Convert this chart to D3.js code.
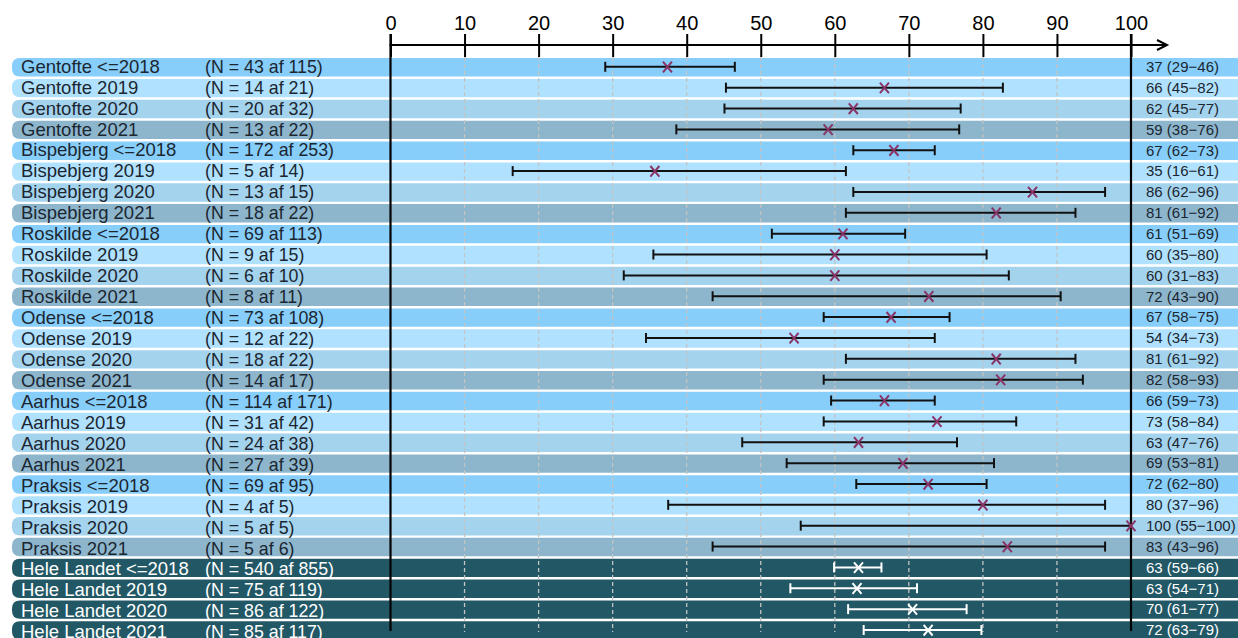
<!DOCTYPE html>
<html>
<head>
<meta charset="utf-8">
<script src="https://cdn.jsdelivr.net/npm/d3@7"></script>
<style>
  body { margin: 0; background: #fff; }
  text { font-family: "Liberation Sans", Arial, sans-serif; }
</style>
</head>
<body>
<svg id="chart"></svg>
<script>
// rows, top to bottom
const labels = [
  "Gentofte <=2018", "Gentofte 2019", "Gentofte 2020", "Gentofte 2021",
  "Bispebjerg <=2018", "Bispebjerg 2019", "Bispebjerg 2020", "Bispebjerg 2021",
  "Roskilde <=2018", "Roskilde 2019", "Roskilde 2020", "Roskilde 2021",
  "Odense <=2018", "Odense 2019", "Odense 2020", "Odense 2021",
  "Aarhus <=2018", "Aarhus 2019", "Aarhus 2020", "Aarhus 2021",
  "Praksis <=2018", "Praksis 2019", "Praksis 2020", "Praksis 2021",
  "Hele Landet <=2018", "Hele Landet 2019", "Hele Landet 2020", "Hele Landet 2021"
];
const nYes = [43, 14, 20, 13, 172, 5, 13, 18, 69, 9, 6, 8, 73, 12, 18, 14, 114, 31, 24, 27, 69, 4, 5, 5, 540, 75, 86, 85];
const nAll = [115, 21, 32, 22, 253, 14, 15, 22, 113, 15, 10, 11, 108, 22, 22, 17, 171, 42, 38, 39, 95, 5, 5, 6, 855, 119, 122, 117];
// plotted values (labels show them truncated)
const est = [37.4, 66.7, 62.5, 59.1, 67.98, 35.7, 86.7, 81.8, 61.1, 60.0, 60.0, 72.7, 67.6, 54.5, 81.8, 82.4,
             66.7, 73.8, 63.2, 69.2, 72.6, 80.0, 100, 83.3, 63.2, 63.0, 70.5, 72.6];
const lower = [29.0, 45.3, 45.1, 38.6, 62.5, 16.5, 62.5, 61.5, 51.5, 35.5, 31.5, 43.5, 58.5, 34.5, 61.5, 58.5,
               59.5, 58.5, 47.5, 53.5, 62.9, 37.5, 55.4, 43.5, 59.9, 54.0, 61.8, 63.9];
const upper = [46.5, 82.7, 77.0, 76.8, 73.5, 61.5, 96.5, 92.5, 69.5, 80.5, 83.5, 90.5, 75.5, 73.5, 92.5, 93.5,
               73.5, 84.5, 76.5, 81.5, 80.5, 96.5, 100, 96.5, 66.3, 71.1, 77.8, 79.8];
const tickValues = [0, 10, 20, 30, 40, 50, 60, 70, 80, 90, 100];

const yearColors = ["#87CEFA", "#B0E2FF", "#A4D3EE", "#8DB6CD"];
const totalColor = "#225866";

const rows = labels.map((d, i) => ({
  label: d, n: nYes[i], N: nAll[i], est: est[i], lo: lower[i], hi: upper[i],
  total: d.startsWith("Hele Landet"), i: i
}));

const W = 1238, H = 638;
const svg = d3.select("#chart").attr("width", W).attr("height", H);

const x = d3.scaleLinear().domain([0, 100]).range([390.5, 1131]);
const y = d3.scalePoint().domain(d3.range(rows.length)).range([67.3, 630.5]);
// the left text runs on a slightly wider pitch than the bands
const yText = d3.scalePoint().domain(d3.range(rows.length)).range([72.7, 638.3]);
const bandH = 18.4;
const axisY = 45;

const rowFill = d => d.total ? totalColor : yearColors[d.i % 4];

// bands with a rounded left end
function bandPath(d) {
  const x0 = 12, x1 = W, t = y(d.i) - bandH / 2, b = t + bandH, r = 8;
  return `M${x1},${t}H${x0 + r}Q${x0},${t} ${x0},${t + r}V${b - r}Q${x0},${b} ${x0 + r},${b}H${x1}Z`;
}
svg.append("g").selectAll("path")
  .data(rows)
  .join("path")
  .attr("d", bandPath)
  .attr("fill", rowFill);

// dashed grid
svg.append("g").selectAll("line")
  .data(tickValues.filter(v => v > 0 && v < 100))
  .join("line")
  .attr("x1", d => x(d)).attr("x2", d => x(d))
  .attr("y1", 57).attr("y2", 632)
  .attr("stroke", "#c4c4c4")
  .attr("stroke-width", 1.3)
  .attr("stroke-dasharray", "4,3");

// axis on top
const axis = svg.append("g")
  .attr("transform", `translate(0,${axisY})`)
  .call(d3.axisTop(x).tickValues(tickValues).tickSize(11).tickPadding(4.5).tickFormat(d3.format("d")));
axis.select(".domain").remove();
axis.selectAll(".tick line").attr("stroke", "#000").attr("stroke-width", 2).attr("y2", -11);
axis.selectAll(".tick").append("line")
  .attr("y1", 0).attr("y2", 12)
  .attr("stroke", "#000").attr("stroke-width", 2);
axis.selectAll(".tick text")
  .attr("fill", "#000")
  .style("font-size", "20px")
  .style("font-family", "'Liberation Sans', Arial, sans-serif");
axis.append("line")
  .attr("x1", x(0) - 1).attr("x2", 1167)
  .attr("stroke", "#000").attr("stroke-width", 2);
axis.append("path")
  .attr("d", "M1157,-5L1167,0L1157,5")
  .attr("fill", "none").attr("stroke", "#000").attr("stroke-width", 2);

// solid verticals at 0 and 100
svg.append("g").selectAll("line")
  .data([0, 100])
  .join("line")
  .attr("x1", d => x(d)).attr("x2", d => x(d))
  .attr("y1", 34).attr("y2", 631)
  .attr("stroke", "#000").attr("stroke-width", 2.2);

// error bars
const bars = svg.append("g").selectAll("g")
  .data(rows)
  .join("g")
  .attr("transform", d => `translate(0,${y(d.i)})`)
  .attr("stroke", d => d.total ? "#fff" : "#111")
  .attr("stroke-width", 2);
bars.append("line")
  .attr("x1", d => x(d.lo)).attr("x2", d => x(d.hi))
  .attr("y1", -0.5).attr("y2", -0.5);
bars.append("line")
  .attr("x1", d => x(d.lo)).attr("x2", d => x(d.lo))
  .attr("y1", -5.5).attr("y2", 4.5);
bars.append("line")
  .attr("x1", d => x(d.hi)).attr("x2", d => x(d.hi))
  .attr("y1", -5.5).attr("y2", 4.5);

// estimate crosses
svg.append("g").selectAll("path")
  .data(rows)
  .join("path")
  .attr("d", d => {
    const cx = x(d.est), cy = y(d.i) - 0.3;
    return `M${cx - 4.5},${cy - 5.3}L${cx + 4.5},${cy + 5.3}M${cx - 4.5},${cy + 5.3}L${cx + 4.5},${cy - 5.3}`;
  })
  .attr("fill", "none")
  .attr("stroke", d => d.total ? "#fff" : "#8a3366")
  .attr("stroke-width", 2);

// left labels
const textColor = d => d.total ? "#fff" : "#1c2630";
svg.append("g").selectAll("text")
  .data(rows)
  .join("text")
  .attr("x", 21)
  .attr("y", d => yText(d.i))
  .attr("fill", textColor)
  .style("font-size", "18.5px")
  .text(d => d.label);

svg.append("g").selectAll("text")
  .data(rows)
  .join("text")
  .attr("x", 205)
  .attr("y", d => yText(d.i))
  .attr("fill", textColor)
  .style("font-size", "17.8px")
  .text(d => `(N = ${d.n} af ${d.N})`);

// right values, truncated like the original
const fl = Math.floor;
svg.append("g").selectAll("text")
  .data(rows)
  .join("text")
  .attr("x", 1146)
  .attr("y", d => y(d.i) + 4.8)
  .attr("fill", textColor)
  .style("font-size", "15px")
  .text(d => `${fl(d.est)} (${fl(d.lo)}\u2212${fl(d.hi)})`);
</script>
</body>
</html>
